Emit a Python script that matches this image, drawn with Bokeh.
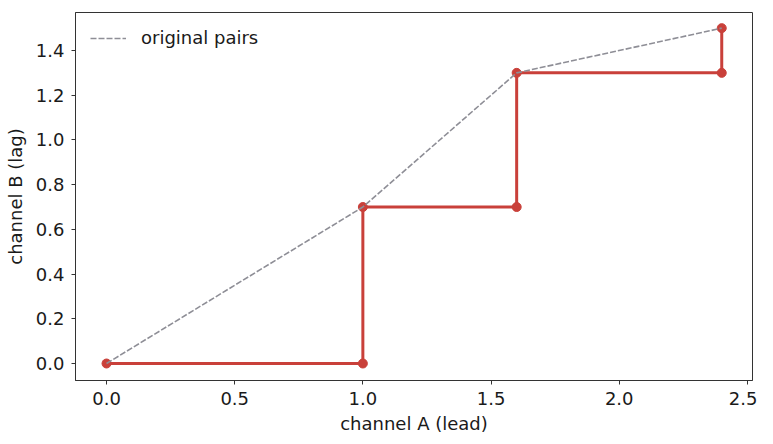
from bokeh.plotting import figure
from bokeh.models import FixedTicker, NumeralTickFormatter, Range1d, Legend, LegendItem
from bokeh.embed import file_html
from bokeh.resources import INLINE

# original pairs
orig_a = [0.0, 1.0, 1.6, 2.4]
orig_b = [0.0, 0.7, 1.3, 1.5]

# step path (lead/lag alignment)
step_a = [0.0, 1.0, 1.0, 1.6, 1.6, 2.4, 2.4]
step_b = [0.0, 0.0, 0.7, 0.7, 1.3, 1.3, 1.5]

x_ticks = [0.0, 0.5, 1.0, 1.5, 2.0, 2.5]
y_ticks = [0.0, 0.2, 0.4, 0.6, 0.8, 1.0, 1.2, 1.4]

RED = "#c9403a"
GRAY = "#8e8e96"
FONT = "DejaVu Sans"
FS = "18px"

p = figure(frame_width=677, frame_height=368, output_backend="svg", toolbar_location=None,
           x_range=Range1d(-0.121, 2.52), y_range=Range1d(-0.076, 1.57),
           min_border_left=75, min_border_right=5, min_border_top=12, min_border_bottom=52)

p.line(step_a, step_b, line_color=RED, line_width=3)
p.scatter(step_a, step_b, size=9, fill_color=RED, line_color=RED)
dash = p.line(orig_a, orig_b, line_color=GRAY, line_width=1.6, line_dash="6 2")

legend = Legend(items=[LegendItem(label="original pairs", renderers=[dash])],
                location="top_left", border_line_color=None, background_fill_alpha=0,
                label_text_font=FONT, label_text_font_size=FS, label_text_color="#1a1a1a",
                glyph_width=36, glyph_height=16, label_height=16,
                label_standoff=15, margin=15, padding=12)
p.add_layout(legend)

p.xgrid.visible = False
p.ygrid.visible = False
p.outline_line_color = "#333333"
p.outline_line_width = 1

for ax in (p.xaxis[0], p.yaxis[0]):
    ax.axis_line_color = "#333333"
    ax.major_tick_line_color = "#333333"
    ax.major_tick_out = 4
    ax.major_tick_in = 0
    ax.minor_tick_line_color = None
    ax.major_label_text_font = FONT
    ax.major_label_text_font_size = FS
    ax.major_label_text_color = "#1a1a1a"
    ax.axis_label_text_font = FONT
    ax.axis_label_text_font_size = FS
    ax.axis_label_text_font_style = "normal"
    ax.axis_label_text_color = "#1a1a1a"
    ax.formatter = NumeralTickFormatter(format="0.0")

p.xaxis.ticker = FixedTicker(ticks=x_ticks)
p.yaxis.ticker = FixedTicker(ticks=y_ticks)
p.xaxis.axis_label = "channel A (lead)"
p.yaxis.axis_label = "channel B (lag)"
p.xaxis.major_label_standoff = 7
p.yaxis.major_label_standoff = 7
p.xaxis.axis_label_standoff = 5
p.yaxis.axis_label_standoff = 7

open("out.html", "w").write(file_html(p, INLINE))
